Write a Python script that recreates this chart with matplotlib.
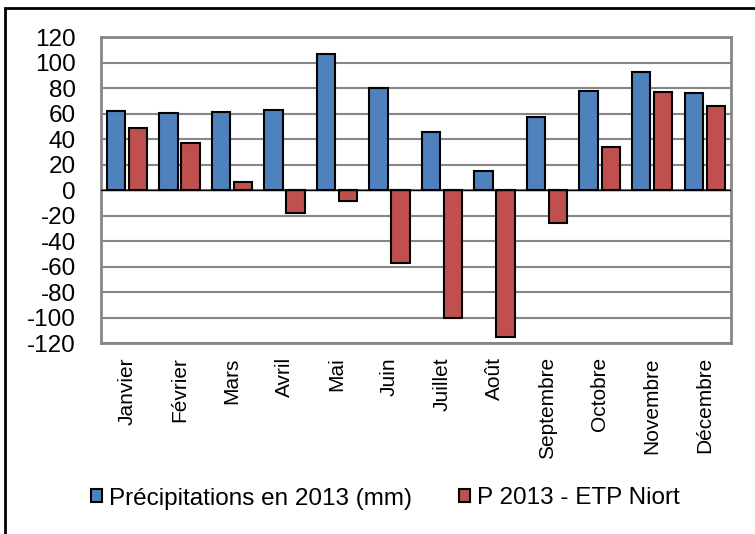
import matplotlib
matplotlib.use("Agg")
import matplotlib.pyplot as plt
import numpy as np
from matplotlib.patches import Rectangle

months = ["Janvier", "Février", "Mars", "Avril", "Mai", "Juin", "Juillet",
          "Août", "Septembre", "Octobre", "Novembre", "Décembre"]
precip = [62, 60.7, 61.7, 63, 107, 80.3, 45.8, 15.2, 57.8, 77.6, 92.8, 76.6]
p_etp = [49, 37.4, 6.8, -17.8, -8.1, -57, -100.4, -115.3, -25.6, 34.2, 76.9, 66.1]
yticks = list(range(-120, 121, 20))

plt.rcParams['font.family'] = ['Liberation Sans', 'DejaVu Sans']

fig = plt.figure(figsize=(7.55, 5.34), dpi=100)
ax = fig.add_axes([0.1334, 0.3571, 0.9682 - 0.1334, 0.9301 - 0.3571])

x = np.arange(len(months))
w = 0.35
off = 0.21
ax.bar(x - off, precip, w, color="#4F81BD", edgecolor="black", linewidth=1.5,
       label="Précipitations en 2013 (mm)", zorder=3)
ax.bar(x + off, p_etp, w, color="#C0504D", edgecolor="black", linewidth=1.5,
       label="P 2013 - ETP Niort", zorder=3)

ax.set_xlim(-0.5, len(months) - 0.5)
ax.set_ylim(-120, 120)
ax.set_yticks(yticks)
ax.set_yticklabels([str(v) for v in yticks], fontsize=17.5)
ax.set_xticks(x)
ax.set_xticklabels(months, rotation=90, fontsize=15)
ax.tick_params(axis='y', length=0, pad=18)
ax.tick_params(axis='x', length=0, pad=10)
ax.grid(axis='y', color="#868686", linewidth=1.5, zorder=0)
ax.axhline(0, color="black", linewidth=1, zorder=4)
for s in ax.spines.values():
    s.set_color("#868686")
    s.set_linewidth(2)

leg = fig.legend(loc="center", bbox_to_anchor=(0.5 + 8 / 755, 1 - 498.5 / 534), ncol=2,
                 frameon=False, fontsize=17.5, handlelength=0.45, handleheight=0.45,
                 handletextpad=0.28, columnspacing=1.95)

fig.patches.append(Rectangle((5 / 755, 0 - 10 / 534), 1.0, 1 - 8 / 534 + 10 / 534,
                             transform=fig.transFigure, fill=False,
                             edgecolor="black", linewidth=2))

fig.savefig("out.png", dpi=100)
